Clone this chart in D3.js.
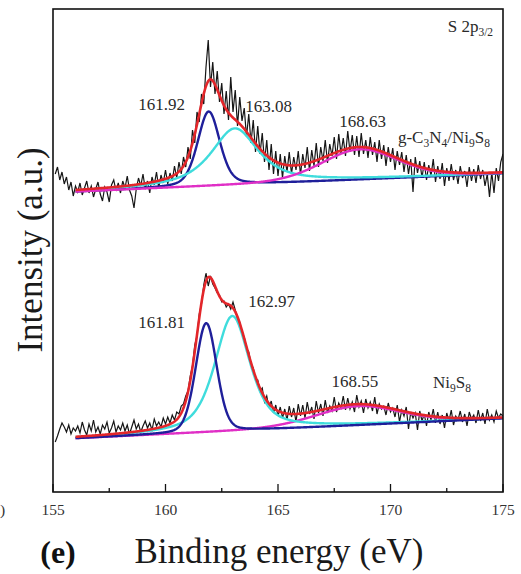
<!DOCTYPE html>
<html><head><meta charset="utf-8">
<script src="https://cdn.jsdelivr.net/npm/d3@7"></script>
<style>body{margin:0;background:#fff}svg{display:block}</style>
</head><body>
<svg id="c" width="521" height="574"></svg>
<script>
// ---------------- DATA ----------------
const xTicks = [155, 160, 165, 170, 175];
const xMinorTicks = [157.5, 162.5, 167.5, 172.5];
const rawStart = 155.1, rawStep = 0.1;          // measured energy grid (eV)
const fitRange = [156, 175];                    // fitted range (eV)

// g-C3N4/Ni9S8 raw counts (a.u., stacked upper trace), 155.1 ... 175.0 eV
const topRaw = [
318,325,312,320,308,315,302,310,296,306,
300,309,297,304,311,299,306,295,303,310,
298,291,305,300,290,307,312,301,309,299,
311,304,316,302,296,284,303,314,306,318,
303,311,299,315,307,320,304,317,309,322,
308,319,311,326,314,330,318,335,325,345,
333,362,349,380,370,398,388,425,452,405,
430,398,421,390,409,378,401,372,415,380,
402,366,395,371,384,355,378,349,372,340,
366,338,359,330,352,322,348,318,341,316,
338,314,336,320,340,318,335,322,341,317,
338,324,345,321,342,326,349,325,345,331,
352,329,348,336,355,333,358,338,354,336,
361,340,357,337,356,335,359,338,352,334,
355,337,350,330,352,333,347,326,345,330,
344,322,341,327,340,320,337,318,333,300,
335,319,331,314,330,312,327,316,333,310,
326,313,329,306,324,311,328,312,322,308,
326,314,321,305,325,311,323,309,327,313,
322,306,318,295,320,299,324,311,330,338];

// Ni9S8 raw counts (a.u., lower trace), 155.1 ... 175.0 eV
const botRaw = [
50,56,63,69,65,60,67,58,64,61,
66,59,70,62,57,68,61,72,60,65,
58,67,63,70,59,64,71,60,66,62,
69,61,67,58,65,72,63,68,60,66,
71,64,69,62,73,66,70,65,74,68,
75,69,77,72,80,78,86,88,96,101,
116,126,147,156,178,188,207,219,206,216,
208,204,199,197,190,191,185,188,183,190,
182,173,170,159,155,144,140,128,124,113,
112,101,104,90,96,84,91,79,87,76,
85,74,83,72,86,75,84,70,88,76,
87,74,90,78,85,73,91,79,88,76,
92,79,86,81,95,80,89,84,96,82,
94,83,90,80,97,85,91,79,93,84,
90,81,95,78,88,83,86,77,89,80,
84,75,87,70,82,76,85,63,80,74,
79,62,81,71,78,66,80,72,83,69,
80,68,77,64,79,71,82,67,76,72,
81,70,78,66,80,73,77,69,82,71,
79,68,83,72,77,70,81,74,78,76];

// Fitted components: [blue, cyan, magenta]
const topLabels   = ["161.92", "163.08", "168.63"];
const topCenters  = [161.92, 163.08, 168.63];
const topHeights  = [74.5, 56.5, 30.2];
const topFwhm     = [1.16, 2.5, 4.0];
const topLorentz  = [0.35, 0.8, 0.2];
const topBackground = [300.3, 318.6];   // at 156 and 175 eV

const botLabels   = ["161.81", "162.97", "168.55"];
const botCenters  = [161.81, 162.97, 168.55];
const botHeights  = [109, 115, 19];
const botFwhm     = [1.1, 1.85, 4.5];
const botLorentz  = [0.2, 0.6, 0.2];
const botBackground = [53.7, 73.65];

// annotation anchors in data space [energy, intensity]
const topLabelAnchors = [[159.83, 382], [164.58, 380], [168.76, 365]];
const botLabelAnchors = [[159.83, 164], [164.72, 185], [168.42, 105]];

// ---------------- DRAW ----------------
const svg = d3.select("#c");
const M = {l: 53, r: 503, t: 9, b: 492};
const x = d3.scaleLinear().domain([155, 175]).range([M.l, M.r]);
const y = d3.scaleLinear().domain([0, 483]).range([M.b, M.t]);
const serif = "'Liberation Serif','Times New Roman',serif";
const txt = "#2a2a2a";
const compColors = ["#1f1f9a", "#3fdcdc", "#e02fc6"];
const redColor = "#e3262a";

svg.append("defs").append("clipPath").attr("id", "clip")
  .append("rect").attr("x", M.l).attr("y", M.t).attr("width", M.r - M.l).attr("height", M.b - M.t);

function pv(E, c, h, w, m) {
  const u = (E - c) / w;
  return h * ((1 - m) * Math.exp(-4 * Math.LN2 * u * u) + m / (1 + 4 * u * u));
}
function bgAt(E, b) { return b[0] + (b[1] - b[0]) * (E - fitRange[0]) / (fitRange[1] - fitRange[0]); }

const fitGrid = d3.range(fitRange[0], fitRange[1] + 1e-9, 0.02);
const line = d3.line().x(d => x(d[0])).y(d => y(d[1]));
const g = svg.append("g").attr("clip-path", "url(#clip)");

function drawSpectrum(raw, centers, heights, fwhm, lor, bgv, order) {
  const rawPts = raw.map((v, i) => [rawStart + i * rawStep, v]);
  g.append("path").datum(rawPts).attr("d", line)
    .attr("fill", "none").attr("stroke", "#161616").attr("stroke-width", 1.2);
  const comps = centers.map((c, k) => fitGrid.map(E => [E, bgAt(E, bgv) + pv(E, c, heights[k], fwhm[k], lor[k])]));
  order.forEach(k => {
    g.append("path").datum(comps[k]).attr("d", line)
      .attr("fill", "none").attr("stroke", compColors[k]).attr("stroke-width", 2.4);
  });
  const env = fitGrid.map(E => [E, bgAt(E, bgv) + d3.sum(centers, (c, k) => pv(E, c, heights[k], fwhm[k], lor[k]))]);
  g.append("path").datum(env).attr("d", line)
    .attr("fill", "none").attr("stroke", redColor).attr("stroke-width", 2.6);
}
drawSpectrum(topRaw, topCenters, topHeights, topFwhm, topLorentz, topBackground, [0, 1, 2]);
drawSpectrum(botRaw, botCenters, botHeights, botFwhm, botLorentz, botBackground, [2, 1, 0]);

// frame
svg.append("rect").attr("x", M.l).attr("y", M.t).attr("width", M.r - M.l).attr("height", M.b - M.t)
  .attr("fill", "none").attr("stroke", "#111").attr("stroke-width", 1.6);

// bottom axis (inward ticks)
const ax = svg.append("g");
xTicks.forEach(t => ax.append("line").attr("x1", x(t)).attr("x2", x(t)).attr("y1", M.b).attr("y2", M.b - 8)
  .attr("stroke", "#111").attr("stroke-width", 1.3));
xMinorTicks.forEach(t => ax.append("line").attr("x1", x(t)).attr("x2", x(t)).attr("y1", M.b).attr("y2", M.b - 4)
  .attr("stroke", "#111").attr("stroke-width", 1.3));
xTicks.forEach(t => ax.append("text").attr("x", x(t)).attr("y", 515).attr("text-anchor", "middle")
  .attr("font-family", serif).attr("font-size", 15.5).attr("fill", "#333").text(t));
ax.append("text").attr("x", 0).attr("y", 515).attr("text-anchor", "start")
  .attr("font-family", serif).attr("font-size", 15.5).attr("fill", "#333").text(")");

// axis titles
svg.append("text").attr("x", 279).attr("y", 563).attr("text-anchor", "middle")
  .attr("font-family", serif).attr("font-size", 35).attr("fill", "#1a1a1a").text("Binding energy (eV)");
svg.append("text").attr("x", 58).attr("y", 563).attr("text-anchor", "middle")
  .attr("font-family", serif).attr("font-size", 32).attr("font-weight", "bold").attr("fill", "#111").text("(e)");
svg.append("text").attr("transform", "translate(42,250) rotate(-90)").attr("text-anchor", "middle")
  .attr("font-family", serif).attr("font-size", 35).attr("fill", "#1a1a1a").text("Intensity (a.u.)");

// peak labels
function lab(a, s) {
  svg.append("text").attr("x", x(a[0])).attr("y", y(a[1])).attr("text-anchor", "middle")
    .attr("font-family", serif).attr("font-size", 17).attr("fill", txt).text(s);
}
topLabels.forEach((s, i) => lab(topLabelAnchors[i], s));
botLabels.forEach((s, i) => lab(botLabelAnchors[i], s));

// rich labels with subscripts
function rich(xp, yp, parts, anchor) {
  const t = svg.append("text").attr("x", xp).attr("y", yp).attr("text-anchor", anchor)
    .attr("font-family", serif).attr("font-size", 17).attr("fill", txt);
  let shifted = false;
  parts.forEach(([s, sub]) => {
    const dy = sub && !shifted ? 4 : (!sub && shifted ? -4 : 0);
    shifted = !!sub;
    t.append("tspan").attr("dy", dy).attr("font-size", sub ? 11.5 : 17).text(s);
  });
}
rich(x(174.56), y(460), [["S 2p", false], ["3/2", true]], "end");
rich(x(170.33), y(349), [["g-C", false], ["3", true], ["N", false], ["4", true], ["/Ni", false], ["9", true], ["S", false], ["8", true]], "start");
rich(x(171.89), y(104), [["Ni", false], ["9", true], ["S", false], ["8", true]], "start");
</script>
</body></html>
